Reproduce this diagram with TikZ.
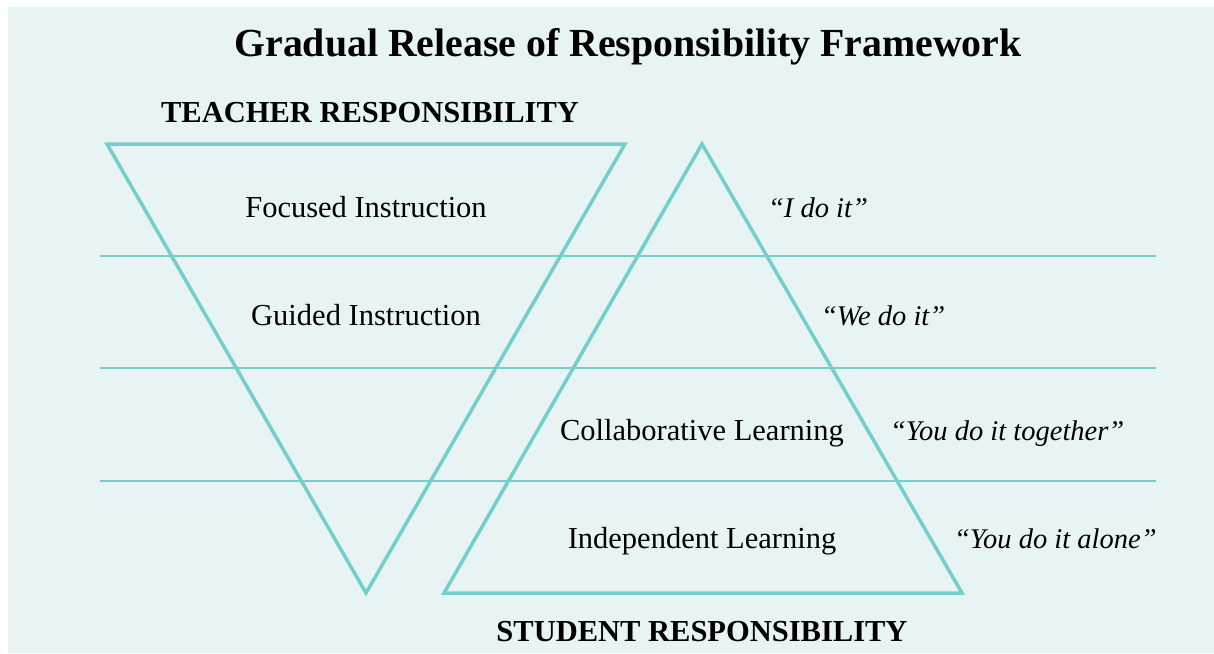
\documentclass[tikz,border=0pt]{standalone}
\usepackage{fontspec}
\setmainfont{Liberation Serif}
\definecolor{grrbg}{HTML}{E8F4F4}
\definecolor{grrline}{HTML}{72CFCB}

\tikzset{every picture/.style={line width=0.75pt}}
\tikzset{
  band/.style={draw=grrline, line width=2pt},
  tri/.style={draw=grrline, line width=3.5pt, line join=miter},
  phase/.style={anchor=base, inner sep=0.75pt, font=\fontsize{30.5}{34}\selectfont},
  saying/.style={anchor=base west, inner sep=0.75pt, font=\fontsize{28.5}{34}\selectfont\itshape},
  heading/.style={anchor=base, inner sep=0.75pt, font=\fontsize{30.5}{34}\selectfont\bfseries}
}

\begin{document}
\begin{tikzpicture}[x=1pt,y=1pt,yscale=-1]
\useasboundingbox (0,0) rectangle (1214,653);
%Background
\fill[grrbg] (8,7) rectangle (1214,653);

%Straight Lines: bands
\draw[band] (100,256) -- (1156,256);
\draw[band] (100,368) -- (1156,368);
\draw[band] (100,481) -- (1156,481);

%Shape: Triangle (teacher)
\draw[tri] (107,144) -- (625,144) -- (366,593) -- cycle;
%Shape: Triangle (student)
\draw[tri] (702,144) -- (962,593) -- (444,593) -- cycle;

% Text Node
\node[anchor=base, inner sep=0.75pt, font=\fontsize{39.8}{44}\selectfont\bfseries] (title) at (628,56) {Gradual Release of Responsibility Framework};
% Text Node
\node[heading, anchor=base west] (teacher) at (160,122) {TEACHER RESPONSIBILITY};
% Text Node
\node[heading] (student) at (702,641) {STUDENT RESPONSIBILITY};

% Text Node
\node[phase] (focused) at (366,217) {Focused Instruction};
% Text Node
\node[phase] (guided) at (366,325) {Guided Instruction};
% Text Node
\node[phase] (collab) at (702,440) {Collaborative Learning};
% Text Node
\node[phase] (indep) at (702,548) {Independent Learning};

% Text Node
\node[saying] (ido) at (767,217) {“I do it”};
% Text Node
\node[saying] (wedo) at (820,325) {“We do it”};
% Text Node
\node[saying] (together) at (889,440) {“You do it together”};
% Text Node
\node[saying] (alone) at (953,548) {“You do it alone”};

\end{tikzpicture}
\end{document}
